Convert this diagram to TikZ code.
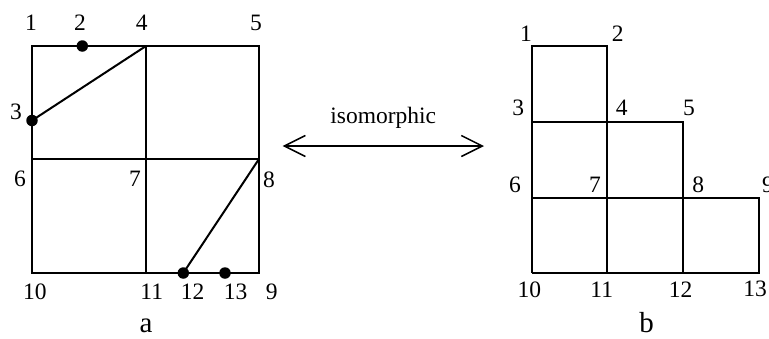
\documentclass[tikz,border=0pt]{standalone}
\usepackage{fontspec}
\setmainfont{Liberation Serif}
\usetikzlibrary{arrows.meta}
\begin{document}
\begin{tikzpicture}[x=1pt,y=-1pt,
  lbl/.style={inner sep=0pt,font=\fontsize{23.5}{27}\selectfont},
  captext/.style={inner sep=0pt,font=\fontsize{29}{33}\selectfont},
  edge/.style={line width=2pt},
  inner/.style={line width=2pt},
  dotm/.style={circle,fill=black,inner sep=0pt,minimum size=11.5pt}]
\useasboundingbox (0,0) rectangle (769,338);
% left figure vertices
\coordinate (A1) at (32,46);
\coordinate (A4) at (146,46);
\coordinate (A5) at (259,46);
\coordinate (A6) at (32,159);
\coordinate (A7) at (146,159);
\coordinate (A8) at (259,159);
\coordinate (A10) at (32,273);
\coordinate (A11) at (146,273);
\coordinate (A9) at (259,273);
\node[dotm] (A2) at (82.3,46) {};
\node[dotm] (A3) at (32,120.5) {};
\node[dotm] (A12) at (183.3,273) {};
\node[dotm] (A13) at (225,273) {};
\draw[edge] (A1) rectangle (A9);
\draw[inner] (A4) -- (A11);
\draw[inner] (A6) -- (A8);
\draw[edge] (A3.center) -- (A4);
\draw[edge] (A8) -- (A12.center);
% left labels
\node[lbl] (la1) at (31,23) {1};
\node[lbl] (la2) at (80,23) {2};
\node[lbl] (la4) at (141.7,23) {4};
\node[lbl] (la5) at (256,23) {5};
\node[lbl] (la3) at (16,111.7) {3};
\node[lbl] (la6) at (20,179.3) {6};
\node[lbl] (la7) at (135,179.3) {7};
\node[lbl] (la8) at (269,179.3) {8};
\node[lbl] (la10) at (35,292) {10};
\node[lbl] (la11) at (151.7,292) {11};
\node[lbl] (la12) at (192.7,292) {12};
\node[lbl] (la13) at (235.7,292) {13};
\node[lbl] (la9) at (271.7,292) {9};
\node[captext] (capa) at (146,325.5) {a};
% arrow
\coordinate (arrL) at (282.7,146);
\coordinate (arrR) at (484,146);
\draw[line width=1.5pt,{Straight Barb[length=21pt,width=21pt,line width=1.5pt]}-{Straight Barb[length=21pt,width=21pt,line width=1.5pt]}] (arrL) -- (arrR);
\node[lbl] (iso) at (383.3,118) {isomorphic};
% right figure vertices
\coordinate (B1) at (532,46);
\coordinate (B2) at (607,46);
\coordinate (B3) at (532,122);
\coordinate (B4) at (607,122);
\coordinate (B5) at (683,122);
\coordinate (B6) at (532,198);
\coordinate (B7) at (607,198);
\coordinate (B8) at (683,198);
\coordinate (B9) at (759,198);
\coordinate (B10) at (532,273);
\coordinate (B11) at (607,273);
\coordinate (B12) at (683,273);
\coordinate (B13) at (759,273);
\draw[edge] (B10) -- (B1) -- (B2) -- (B11);
\draw[inner] (B3) -- (B5) -- (B12);
\draw[inner] (B6) -- (B9) -- (B13) -- (B10);
% right labels
\node[lbl] (lb1) at (526,33.3) {1};
\node[lbl] (lb2) at (617.7,33.3) {2};
\node[lbl] (lb3) at (518.3,108) {3};
\node[lbl] (lb4) at (621.7,108) {4};
\node[lbl] (lb5) at (689,108) {5};
\node[lbl] (lb6) at (515,185) {6};
\node[lbl] (lb7) at (595,185) {7};
\node[lbl] (lb8) at (698.3,185) {8};
\node[lbl] (lb9) at (768,185) {9};
\node[lbl] (lb10) at (529.3,289.3) {10};
\node[lbl] (lb11) at (601.7,289.3) {11};
\node[lbl] (lb12) at (680.7,289.3) {12};
\node[lbl] (lb13) at (755,289.3) {13};
\node[captext] (capb) at (646.7,323) {b};
\end{tikzpicture}
\end{document}
